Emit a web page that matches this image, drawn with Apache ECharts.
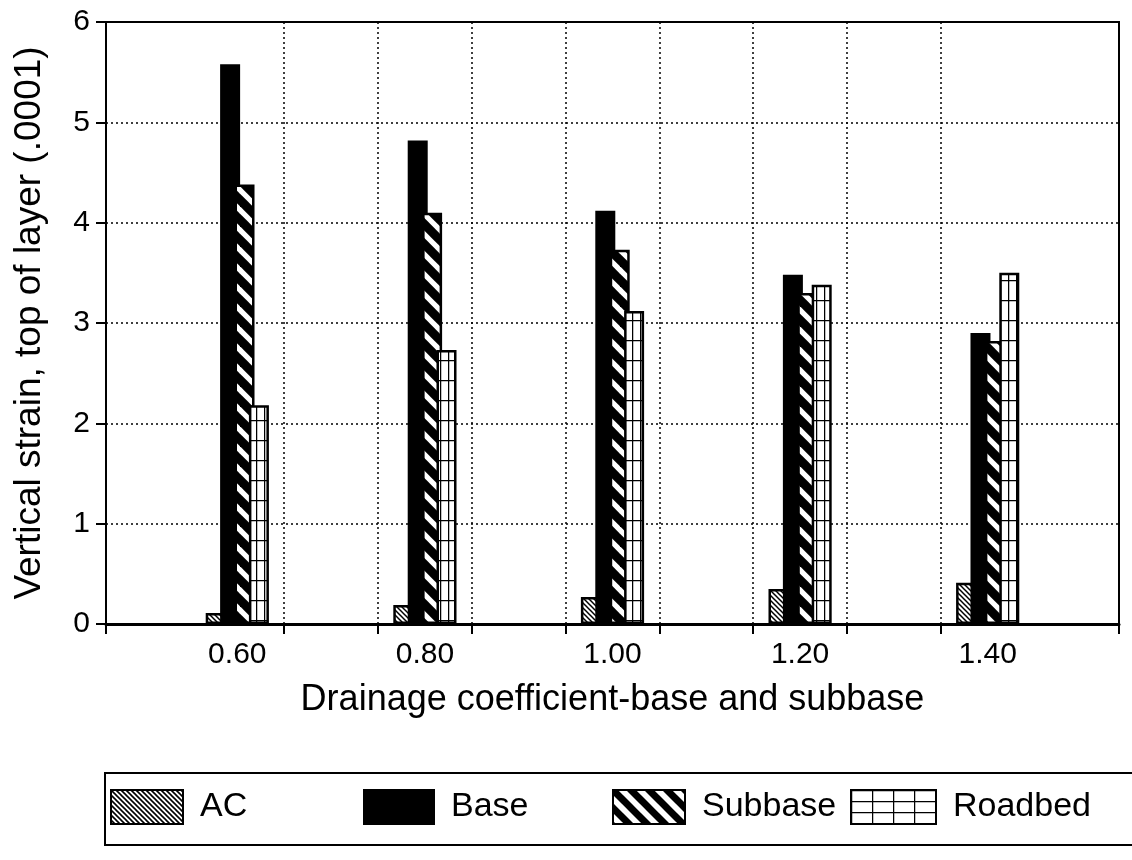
<!DOCTYPE html>
<html>
<head>
<meta charset="utf-8">
<script src="https://cdn.jsdelivr.net/npm/echarts@6/dist/echarts.min.js"></script>
<style>
  html, body { margin: 0; padding: 0; background: #fff; }
  #chart { width: 1132px; height: 860px; }
</style>
</head>
<body>
<div id="chart"></div>
<script>
// drainage coefficient (x) and strain values
var coefs = [0.60, 0.80, 1.00, 1.20, 1.40];
var acVals = [0.11, 0.19, 0.27, 0.35, 0.41];
var baseVals = [5.58, 4.82, 4.12, 3.48, 2.90];
var subbaseVals = [4.38, 4.10, 3.73, 3.30, 2.82];
var roadbedVals = [2.18, 2.73, 3.12, 3.38, 3.50];
var tickVals = [0.46, 0.65, 0.75, 0.85, 0.95, 1.05, 1.15, 1.25, 1.35, 1.54];
var yTicks = [0, 1, 2, 3, 4, 5, 6];

var FONT = '"Liberation Sans", Arial, sans-serif';

// hatch patterns drawn on small canvases
function makePattern(w, h, draw) {
	var c = document.createElement('canvas');
	c.width = w;
	c.height = h;
	var ctx = c.getContext('2d');
	ctx.fillStyle = '#fff';
	ctx.fillRect(0, 0, w, h);
	ctx.strokeStyle = '#000';
	draw(ctx, w, h);
	return {image: c, repeat: 'repeat'};
}

// "\" stripes, drawn past the tile edges so the tiles join cleanly
function diag(size, width) {
	return makePattern(size, size, function (ctx, w) {
		ctx.lineWidth = width;
		for (var k = -2; k <= 2; k++) {
			ctx.beginPath();
			ctx.moveTo(k * w - w, -w);
			ctx.lineTo(k * w + 2 * w, 2 * w);
			ctx.stroke();
		}
	});
}

function cells(w, h, width) {
	return makePattern(w, h, function (ctx) {
		ctx.lineWidth = width;
		ctx.beginPath();
		ctx.moveTo(0, 0.5); ctx.lineTo(w, 0.5);
		ctx.moveTo(0.5, 0); ctx.lineTo(0.5, h);
		ctx.stroke();
	});
}

var acFill = diag(5, 1.5);
var subFill = diag(20, 9);
var roadFill = cells(8, 20, 1.5);
var acLegend = diag(5, 1.6);
var subLegend = diag(18, 7);
var roadLegend = cells(21, 11, 1.5);

function pairs(vals) {
	return vals.map(function (v, i) {
		return [coefs[i], v];
	});
}

function barSeries(name, vals, fill) {
	return {
		name: name,
		type: 'bar',
		barWidth: 20,
		barGap: '-28%',
		itemStyle: {color: fill, borderColor: '#000', borderWidth: 2.5},
		data: pairs(vals)
	};
}

function legendAt(name, left, width, fill) {
	return {
		left: left,
		top: 789,
		padding: 0,
		itemWidth: width,
		itemHeight: 34,
		icon: 'rect',
		selectedMode: false,
		textStyle: {fontSize: 34, color: '#000', fontFamily: FONT, padding: [0, 0, 0, 12]},
		data: [{name: name, itemStyle: {color: fill, borderColor: '#000', borderWidth: 2}}]
	};
}

var myChart = echarts.init(document.getElementById('chart'));

var option = {
	backgroundColor: '#fff',
	animation: false,
	grid: {
		left: 106,
		right: 13,
		top: 22,
		bottom: 236,
		show: true,
		borderColor: '#000',
		borderWidth: 2,
		backgroundColor: 'transparent'
	},
	xAxis: {
		type: 'value',
		min: 0.46,
		max: 1.54,
		name: 'Drainage coefficient-base and subbase',
		nameLocation: 'middle',
		nameGap: 58,
		nameTextStyle: {fontSize: 36, color: '#000', fontFamily: FONT},
		axisLine: {lineStyle: {color: '#000', width: 3}},
		axisTick: {show: true, length: 10, customValues: tickVals, lineStyle: {color: '#000', width: 2}},
		axisLabel: {
			customValues: coefs,
			formatter: function (v) { return v.toFixed(2); },
			fontSize: 30,
			color: '#000',
			fontFamily: FONT,
			margin: 16
		},
		splitLine: {show: true, lineStyle: {color: '#000', width: 1.5, type: [2, 3]}}
	},
	yAxis: {
		type: 'value',
		min: yTicks[0],
		max: yTicks[yTicks.length - 1],
		interval: 1,
		name: 'Vertical strain, top of layer (.0001)',
		nameLocation: 'middle',
		nameGap: 58,
		nameTextStyle: {fontSize: 37, color: '#000', fontFamily: FONT},
		axisLine: {show: true, lineStyle: {color: '#000', width: 2}},
		axisTick: {show: true, length: 10, lineStyle: {color: '#000', width: 2}},
		axisLabel: {fontSize: 30, color: '#000', fontFamily: FONT, margin: 16},
		splitLine: {show: true, lineStyle: {color: '#000', width: 1.5, type: [2, 3]}}
	},
	legend: [
		legendAt('AC', 110, 72, acLegend),
		legendAt('Base', 363, 70, '#000'),
		legendAt('Subbase', 612, 72, subLegend),
		legendAt('Roadbed', 850, 85, roadLegend)
	],
	graphic: [{
		type: 'rect',
		shape: {x: 105, y: 773, width: 1060, height: 72},
		style: {fill: 'none', stroke: '#000', lineWidth: 2},
		silent: true
	}],
	series: [
		barSeries('AC', acVals, acFill),
		barSeries('Base', baseVals, '#000'),
		barSeries('Subbase', subbaseVals, subFill),
		barSeries('Roadbed', roadbedVals, roadFill)
	]
};

myChart.setOption(option);
</script>
</body>
</html>
